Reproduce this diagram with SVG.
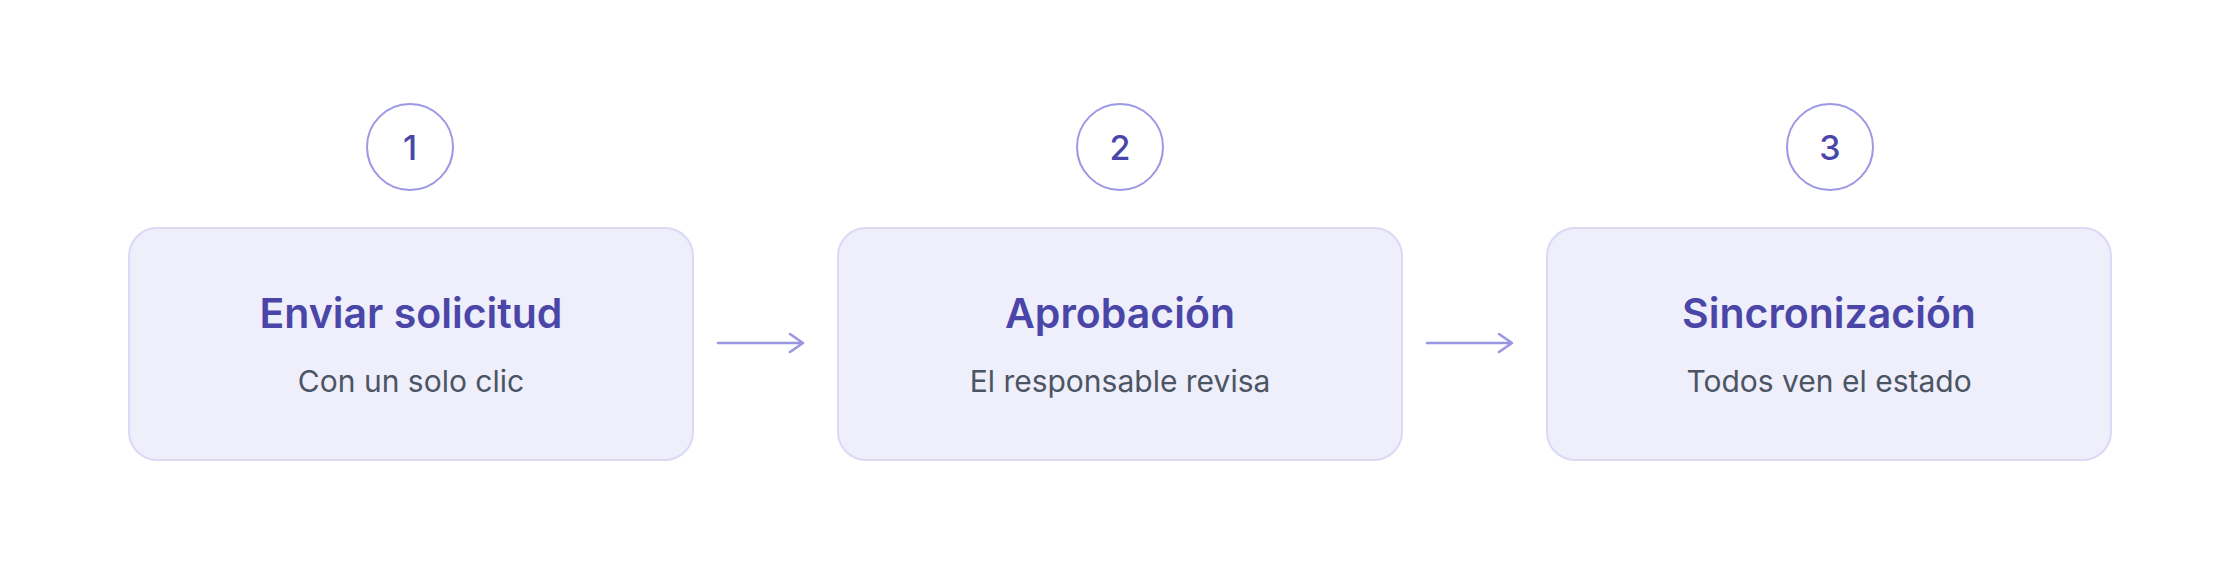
<svg xmlns="http://www.w3.org/2000/svg" width="2240" height="566" viewBox="0 0 2240 566">
<style>
.box{fill:#efeefb;stroke:#dcd9f5;stroke-width:2}
.badge{fill:#ffffff;stroke:#9c98e4;stroke-width:2}
.num{font-family:Inter,"Liberation Sans",sans-serif;font-size:34px;font-weight:500;fill:#4a46a8;text-anchor:middle}
.title{font-family:Inter,"Liberation Sans",sans-serif;font-size:41px;font-weight:600;fill:#4a46a8;text-anchor:middle}
.sub{font-family:Inter,"Liberation Sans",sans-serif;font-size:30px;font-weight:400;fill:#4b5563;text-anchor:middle}
.conn{fill:none;stroke:#9a96e2;stroke-width:2.6;stroke-linecap:round;stroke-linejoin:round}
</style>
<rect width="2240" height="566" fill="#ffffff"/>
<g id="step1">
<circle class="badge" cx="410" cy="147" r="43"/>
<text class="num" x="410" y="160">1</text>
<rect class="box" x="129" y="228" width="564" height="232" rx="28"/>
<text class="title" x="411" y="328">Enviar solicitud</text>
<text class="sub" x="411" y="392">Con un solo clic</text>
</g>
<g id="step2">
<circle class="badge" cx="1120" cy="147" r="43"/>
<text class="num" x="1120" y="160">2</text>
<rect class="box" x="838" y="228" width="564" height="232" rx="28"/>
<text class="title" x="1120" y="328">Aprobación</text>
<text class="sub" x="1120" y="392">El responsable revisa</text>
</g>
<g id="step3">
<circle class="badge" cx="1830" cy="147" r="43"/>
<text class="num" x="1830" y="160">3</text>
<rect class="box" x="1547" y="228" width="564" height="232" rx="28"/>
<text class="title" x="1829" y="328">Sincronización</text>
<text class="sub" x="1829" y="392">Todos ven el estado</text>
</g>
<g id="connectors">
<path class="conn" d="M718 343 H802 M790 334 L803 343 L790 352"/>
<path class="conn" d="M1427 343 H1511 M1499 334 L1512 343 L1499 352"/>
</g>
</svg>
